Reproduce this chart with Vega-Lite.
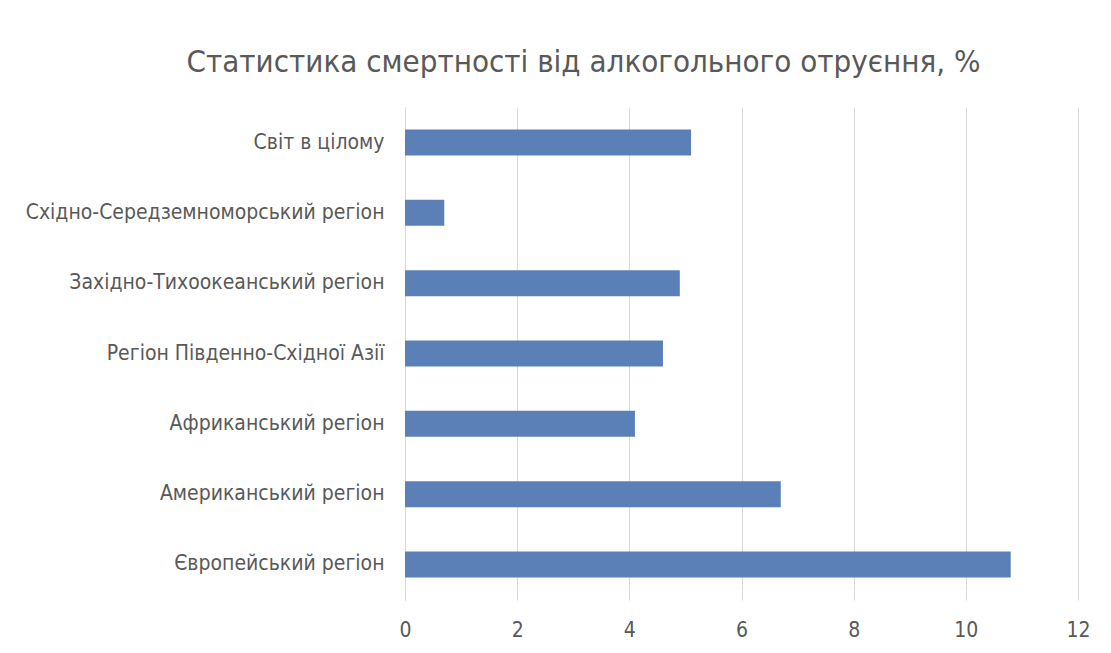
{
  "$schema": "https://vega.github.io/schema/vega-lite/v6.json",
  "autosize": {"type": "none"},
  "width": 673,
  "height": 493,
  "padding": {"left": 405, "top": 107, "right": 33, "bottom": 53},
  "background": "white",
  "title": {
    "text": "Статистика смертності від алкогольного отруєння, %",
    "font": "DejaVu Sans Condensed, sans-serif",
    "fontSize": 31,
    "fontWeight": "normal",
    "color": "#595959",
    "anchor": "middle",
    "dx": -158,
    "offset": 28
  },
  "data": {
    "values": [
      {"region": "Світ в цілому", "value": 5.1},
      {"region": "Східно-Середземноморський регіон", "value": 0.7},
      {"region": "Західно-Тихоокеанський регіон", "value": 4.9},
      {"region": "Регіон Південно-Східної Азії", "value": 4.6},
      {"region": "Африканський регіон", "value": 4.1},
      {"region": "Американський регіон", "value": 6.7},
      {"region": "Європейський регіон", "value": 10.8}
    ]
  },
  "mark": {"type": "bar", "color": "#5B80B8"},
  "encoding": {
    "y": {
      "field": "region",
      "type": "nominal",
      "sort": null,
      "scale": {"paddingInner": 0.63, "paddingOuter": 0.32},
      "axis": {
        "title": null,
        "ticks": false,
        "domain": true,
        "domainColor": "#d9d9d9",
        "labelFont": "DejaVu Sans Condensed, sans-serif",
        "labelFontSize": 21,
        "labelColor": "#595959",
        "labelPadding": 21,
        "labelLimit": 420
      }
    },
    "x": {
      "field": "value",
      "type": "quantitative",
      "scale": {"domain": [0, 12]},
      "axis": {
        "title": null,
        "values": [0, 2, 4, 6, 8, 10, 12],
        "grid": true,
        "gridColor": "#d9d9d9",
        "domain": false,
        "ticks": false,
        "labelFlush": false,
        "labelFont": "DejaVu Sans Condensed, sans-serif",
        "labelFontSize": 21,
        "labelColor": "#595959",
        "labelPadding": 19
      }
    }
  },
  "config": {"view": {"stroke": null}}
}
